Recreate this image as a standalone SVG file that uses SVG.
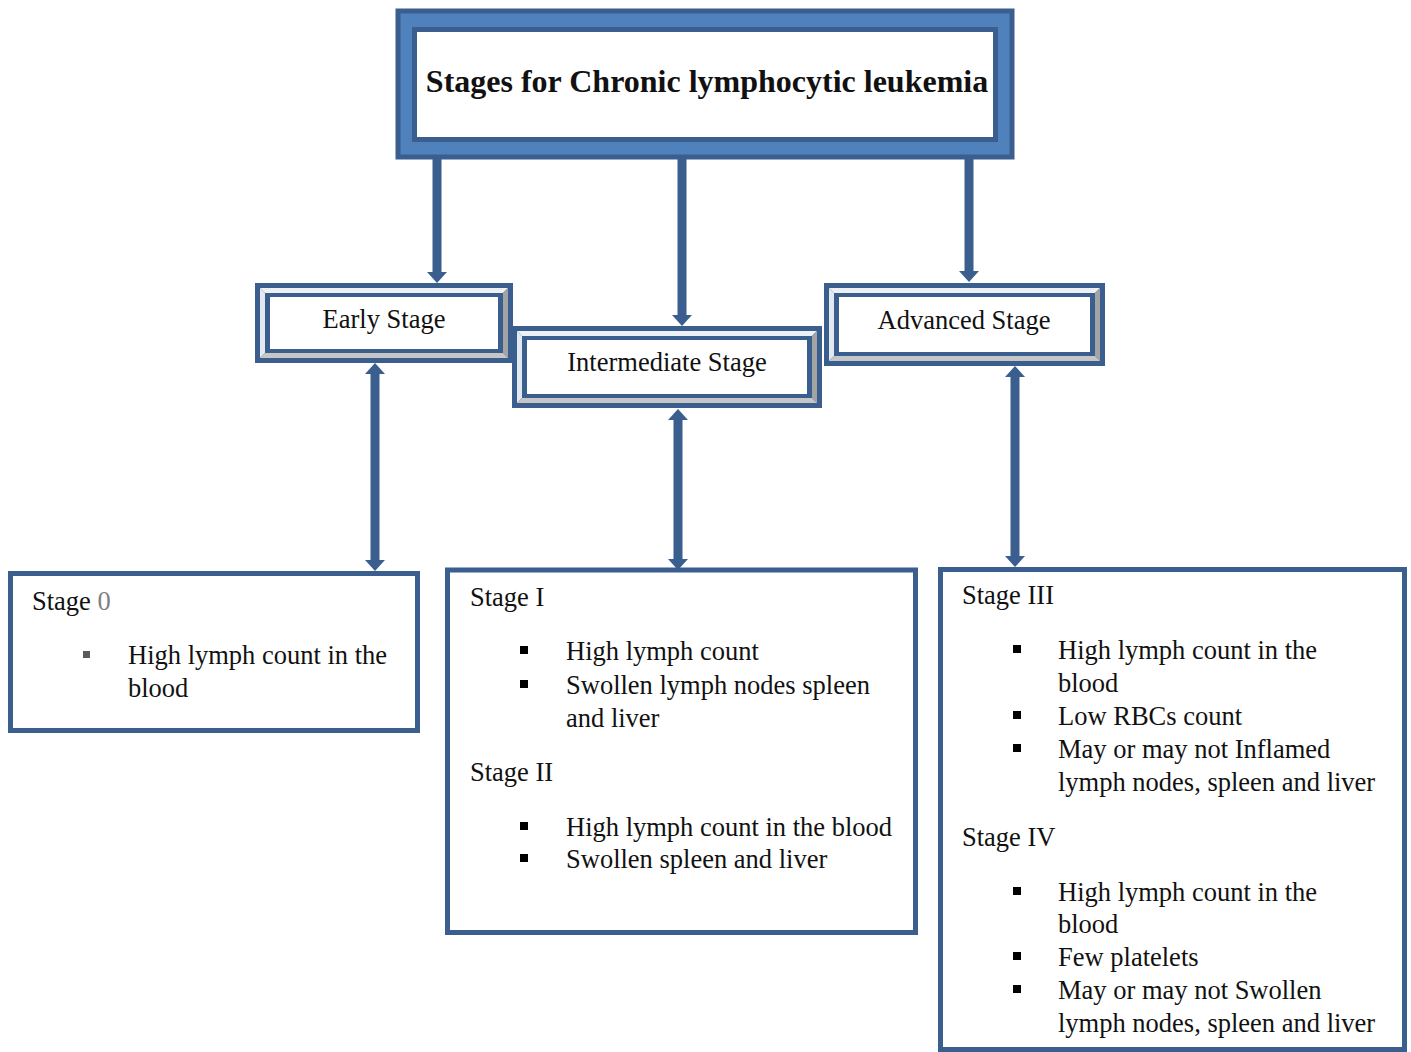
<svg xmlns="http://www.w3.org/2000/svg" width="1411" height="1052" viewBox="0 0 1411 1052">
<style>
  .t { font-family: "Liberation Serif", "Times New Roman", serif; font-size: 26.5px; fill: #111; }
  .title { font-family: "Liberation Serif", "Times New Roman", serif; font-size: 32px; font-weight: bold; fill: #111; }
  .dark { fill: #3a5f8f; }
  .bl { fill: #e3e9f1; }
  .bt { fill: #edf1f6; }
  .br { fill: #a3a3a3; }
  .bb { fill: #c6c6c6; }
  .white { fill: #ffffff; }
  .box { fill: #ffffff; stroke: #3a5f8f; stroke-width: 5; }
  .bul { fill: #000; }
  .conn { stroke: #3a5f8f; stroke-width: 9; fill: none; }
</style>
<defs>
  <marker id="ah" viewBox="0 0 11 20" refX="0" refY="10" markerWidth="11" markerHeight="20" markerUnits="userSpaceOnUse" orient="auto-start-reverse">
    <path d="M0,0 L11,10 L0,20 Z" fill="#3a5f8f"/>
  </marker>
</defs>
<rect width="1411" height="1052" fill="#ffffff"/>

<g id="title">
  <rect x="398" y="11" width="614" height="146" fill="#4f81bd" stroke="#3a5f8f" stroke-width="5"/>
  <rect x="414.5" y="29.5" width="581" height="110" fill="#ffffff" stroke="#3a5f8f" stroke-width="5"/>
  <text class="title" x="707" y="92" text-anchor="middle">Stages for Chronic lymphocytic leukemia</text>
</g>

<g id="connectors">
  <line class="conn" x1="437" y1="157" x2="437" y2="272" marker-end="url(#ah)"/>
  <line class="conn" x1="682" y1="157" x2="682" y2="315" marker-end="url(#ah)"/>
  <line class="conn" x1="969" y1="157" x2="969" y2="271" marker-end="url(#ah)"/>
  <line class="conn" x1="375" y1="374" x2="375" y2="560" marker-start="url(#ah)" marker-end="url(#ah)"/>
  <line class="conn" x1="678" y1="420" x2="678" y2="559" marker-start="url(#ah)" marker-end="url(#ah)"/>
  <line class="conn" x1="1015" y1="377" x2="1015" y2="556" marker-start="url(#ah)" marker-end="url(#ah)"/>
</g>

<g id="early">
  <rect class="dark" x="255" y="283" width="258" height="80"/>
  <polygon class="bt" points="260,288 508,288 503,293 265,293"/>
  <polygon class="bl" points="260,288 265,293 265,353 260,358"/>
  <polygon class="br" points="508,288 508,358 503,353 503,293"/>
  <polygon class="bb" points="260,358 508,358 503,353 265,353"/>
  <rect class="dark" x="265" y="293" width="238" height="60"/>
  <rect class="white" x="270" y="297" width="228" height="52"/>
  <text class="t" x="384" y="328" text-anchor="middle">Early Stage</text>
</g>

<g id="intermediate">
  <rect class="dark" x="512" y="326" width="310" height="82"/>
  <polygon class="bt" points="517,331 817,331 812,336 522,336"/>
  <polygon class="bl" points="517,331 522,336 522,398 517,403"/>
  <polygon class="br" points="817,331 817,403 812,398 812,336"/>
  <polygon class="bb" points="517,403 817,403 812,398 522,398"/>
  <rect class="dark" x="522" y="336" width="290" height="62"/>
  <rect class="white" x="527" y="340" width="280" height="54"/>
  <text class="t" x="667" y="371" text-anchor="middle">Intermediate Stage</text>
</g>

<g id="advanced">
  <rect class="dark" x="824" y="283" width="281" height="83"/>
  <polygon class="bt" points="829,288 1100,288 1095,293 834,293"/>
  <polygon class="bl" points="829,288 834,293 834,356 829,361"/>
  <polygon class="br" points="1100,288 1100,361 1095,356 1095,293"/>
  <polygon class="bb" points="829,361 1100,361 1095,356 834,356"/>
  <rect class="dark" x="834" y="293" width="261" height="63"/>
  <rect class="white" x="839" y="297" width="251" height="55"/>
  <text class="t" x="964" y="329" text-anchor="middle">Advanced Stage</text>
</g>

<g id="stage0">
  <rect class="box" x="10.5" y="573.5" width="407" height="157"/>
  <text class="t" x="32" y="610">Stage <tspan fill="#7f7f7f">0</tspan></text>
  <rect x="83" y="651" width="7" height="7" fill="#5a5a5a"/>
  <text class="t" x="128" y="664">High lymph count in the</text>
  <text class="t" x="128" y="697">blood</text>
</g>

<g id="stage12">
  <rect class="box" x="447.5" y="570" width="468" height="362.5"/>
  <text class="t" x="470" y="606">Stage I</text>
  <rect class="bul" x="520" y="646" width="8" height="8"/>
  <text class="t" x="566" y="660">High lymph count</text>
  <rect class="bul" x="520" y="680" width="8" height="8"/>
  <text class="t" x="566" y="694">Swollen lymph nodes spleen</text>
  <text class="t" x="566" y="727">and liver</text>
  <text class="t" x="470" y="781">Stage II</text>
  <rect class="bul" x="520" y="822" width="8" height="8"/>
  <text class="t" x="566" y="836">High lymph count in the blood</text>
  <rect class="bul" x="520" y="854" width="8" height="8"/>
  <text class="t" x="566" y="868">Swollen spleen and liver</text>
</g>

<g id="stage34">
  <rect class="box" x="940.5" y="569.5" width="464" height="480"/>
  <text class="t" x="962" y="604">Stage III</text>
  <rect class="bul" x="1013" y="645" width="8" height="8"/>
  <text class="t" x="1058" y="659">High lymph count in the</text>
  <text class="t" x="1058" y="692">blood</text>
  <rect class="bul" x="1013" y="711" width="8" height="8"/>
  <text class="t" x="1058" y="725">Low RBCs count</text>
  <rect class="bul" x="1013" y="744" width="8" height="8"/>
  <text class="t" x="1058" y="758">May or may not Inflamed</text>
  <text class="t" x="1058" y="791">lymph nodes, spleen and liver</text>
  <text class="t" x="962" y="846">Stage IV</text>
  <rect class="bul" x="1013" y="887" width="8" height="8"/>
  <text class="t" x="1058" y="901">High lymph count in the</text>
  <text class="t" x="1058" y="933">blood</text>
  <rect class="bul" x="1013" y="952" width="8" height="8"/>
  <text class="t" x="1058" y="966">Few platelets</text>
  <rect class="bul" x="1013" y="985" width="8" height="8"/>
  <text class="t" x="1058" y="999">May or may not Swollen</text>
  <text class="t" x="1058" y="1032">lymph nodes, spleen and liver</text>
</g>
</svg>
